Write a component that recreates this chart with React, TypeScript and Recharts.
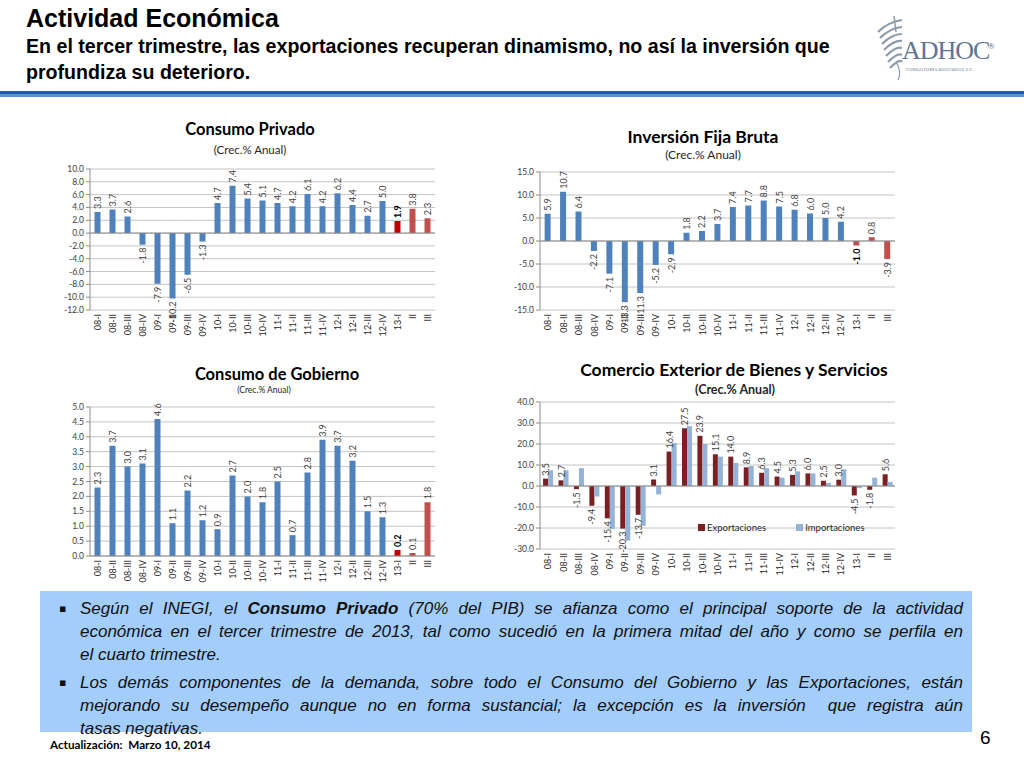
import React from 'react';
import { BarChart, Bar, XAxis, YAxis, CartesianGrid, Cell, LabelList, ReferenceLine } from 'recharts';

const categories = ['08-I','08-II','08-III','08-IV','09-I','09-II','09-III','09-IV','10-I','10-II','10-III','10-IV','11-I','11-II','11-III','11-IV','12-I','12-II','12-III','12-IV','13-I','II','III'];
const consumoPrivado = [3.3, 3.7, 2.6, -1.8, -7.9, -10.2, -6.5, -1.3, 4.7, 7.4, 5.4, 5.1, 4.7, 4.2, 6.1, 4.2, 6.2, 4.4, 2.7, 5.0, 1.9, 3.8, 2.3];
const inversionFija = [5.9, 10.7, 6.4, -2.2, -7.1, -13.3, -11.3, -5.2, -2.9, 1.8, 2.2, 3.7, 7.4, 7.7, 8.8, 7.5, 6.8, 6.0, 5.0, 4.2, -1.0, 0.8, -3.9];
const consumoGobierno = [2.3, 3.7, 3.0, 3.1, 4.6, 1.1, 2.2, 1.2, 0.9, 2.7, 2.0, 1.8, 2.5, 0.7, 2.8, 3.9, 3.7, 3.2, 1.5, 1.3, 0.2, 0.1, 1.8];
const exportaciones = [3.5, 2.7, -1.5, -9.4, -15.4, -20.3, -13.7, 3.1, 16.4, 27.5, 23.9, 15.1, 14.0, 8.9, 6.3, 4.5, 5.3, 6.0, 2.5, 3.0, -4.5, -1.8, 5.6];
const importaciones = [7.5, 7.5, 8.5, -5.0, -20.5, -26.0, -19.0, -4.0, 20.5, 28.5, 20.0, 14.0, 11.0, 9.5, 8.5, 4.0, 7.0, 6.0, 1.5, 8.0, -1.0, 4.0, 2.0];

const ticksPrivado = [10, 8, 6, 4, 2, 0, -2, -4, -6, -8, -10, -12];
const ticksInversion = [15, 10, 5, 0, -5, -10, -15];
const ticksGobierno = [0, 0.5, 1, 1.5, 2, 2.5, 3, 3.5, 4, 4.5, 5];
const ticksComercio = [-30, -20, -10, 0, 10, 20, 30, 40];

const BLUE = '#4F81BD';
const DARK_RED = '#C00000';
const RED = '#C0504D';
const EXPORT = '#7A1F22';
const IMPORT = '#95B3D7';
const GRID = '#C4C4C4';
const AXIS = '#8C8C8C';
const FONT = 'Lato, "Open Sans", "Liberation Sans", sans-serif';
const NARROW = '"Liberation Sans Narrow", "Liberation Sans", Arial, sans-serif';

const singleData = (vals: number[]) => categories.map((c, i) => ({ cat: c, v: vals[i] }));
const dataPrivado = singleData(consumoPrivado);
const dataInversion = singleData(inversionFija);
const dataGobierno = singleData(consumoGobierno);
const dataComercio = categories.map((c, i) => ({ cat: c, exp: exportaciones[i], imp: importaciones[i] }));

const XTick = (props: any) => {
  const { x, y, payload } = props;
  return (
    <text transform={`translate(${x},${y - 4}) rotate(-90)`} textAnchor="end" dominantBaseline="central" fontSize={9} fill="#262626" fontFamily={FONT}>
      {payload.value}
    </text>
  );
};

const makeLabel = (boldIndex: number) => (props: any) => {
  const vb = props.viewBox || {};
  const x = vb.x ?? props.x;
  const y = vb.y ?? props.y;
  const w = vb.width ?? props.width;
  const h = vb.height ?? props.height;
  const value = Number(props.value);
  const top = Math.min(y, y + h);
  const bottom = Math.max(y, y + h);
  const cx = x + w / 2;
  const bold = props.index === boldIndex;
  const neg = value < 0;
  const ay = neg ? bottom + 3 : top - 3;
  return (
    <text transform={`translate(${cx},${ay}) rotate(-90)`} textAnchor={neg ? 'end' : 'start'} dominantBaseline="central" fontSize={9} fill={bold ? '#000' : '#404040'} fontWeight={bold ? 'bold' : 'normal'} fontFamily={FONT}>
      {value.toFixed(1)}
    </text>
  );
};

const colorFor = (i: number, darkFirst: boolean) => (i < 20 ? BLUE : i === 20 && darkFirst ? DARK_RED : RED);

const yTick = { fontSize: 8.5, fill: '#404040', fontFamily: FONT };

function singleChart(data: any[], width: number, height: number, domain: [number, number], ticks: number[], darkFirst: boolean) {
  return (
    <BarChart width={width} height={height} data={data} margin={{ top: 9, right: 5, bottom: 0, left: 0 }} barCategoryGap="30%">
      <CartesianGrid vertical={false} stroke={GRID} />
      <XAxis dataKey="cat" interval={0} tick={<XTick />} height={35} axisLine={false} tickLine={false} />
      <YAxis width={50} domain={domain} ticks={ticks} interval={0} tick={yTick} tickFormatter={(v: number) => v.toFixed(1)} axisLine={{ stroke: AXIS }} tickLine={{ stroke: AXIS }} tickSize={4} allowDataOverflow />
      <ReferenceLine y={0} stroke={AXIS} />
      <Bar dataKey="v" isAnimationActive={false}>
        {data.map((d, i) => (
          <Cell key={d.cat} fill={colorFor(i, darkFirst)} />
        ))}
        <LabelList dataKey="v" content={makeLabel(20)} />
      </Bar>
    </BarChart>
  );
}

const titleStyle = (cx: number, top: number, size: number): React.CSSProperties => ({
  position: 'absolute', left: cx - 250, top, width: 500, textAlign: 'center', fontFamily: FONT, fontWeight: 'bold', fontSize: size, lineHeight: 1.2, color: '#000', whiteSpace: 'nowrap',
});
const subStyle = (cx: number, top: number, size: number, bold = false): React.CSSProperties => ({
  position: 'absolute', left: cx - 150, top, width: 300, textAlign: 'center', fontFamily: FONT, fontSize: size, lineHeight: 1.2, color: '#262626', fontWeight: bold ? 'bold' : 'normal', whiteSpace: 'nowrap',
});

const bodyLine = (justify: boolean): React.CSSProperties => ({
  textAlign: justify ? 'justify' : 'left',
  textAlignLast: justify ? 'justify' : 'left',
  whiteSpace: 'nowrap',
  height: 23,
  lineHeight: '23px',
});

const Logo = () => (
  <div style={{ position: 'absolute', left: 872, top: 12, width: 140, height: 70 }}>
    <svg width={40} height={68} style={{ position: 'absolute', left: 0, top: 0 }}>
      {[0, 1, 2, 3, 4, 5, 6].map((k) => (
        <path key={k} d={`M ${6 + k * 2} ${20 + k * 6} Q ${16 + k * 2} ${10 + k * 6} ${30} ${8 + k * 7}`} stroke="#8E9CAE" strokeWidth={2.2} fill="none" />
      ))}
      <path d="M 22 4 L 24 20" stroke="#8E9CAE" strokeWidth={1.5} />
      <path d="M 24 50 Q 30 60 26 68" stroke="#8E9CAE" strokeWidth={1.2} fill="none" />
    </svg>
    <div style={{ position: 'absolute', left: 30, top: 26, fontFamily: '"Liberation Serif", "DejaVu Serif", serif', fontSize: 26, lineHeight: 1, color: '#5E7694', letterSpacing: -1 }}>ADHOC</div>
    <div style={{ position: 'absolute', left: 116, top: 30, fontFamily: FONT, fontSize: 8, lineHeight: 1, color: '#5E7694' }}>®</div>
    <div style={{ position: 'absolute', left: 34, top: 55, fontFamily: FONT, fontSize: 4, color: '#6B7B8F', letterSpacing: 0.3, whiteSpace: 'nowrap' }}>CONSULTORES ASOCIADOS S.C.</div>
  </div>
);

export default function App() {
  return (
    <div style={{ position: 'absolute', left: 0, top: 0, width: 1024, height: 768, background: '#fff', overflow: 'hidden' }}>
      <div style={{ position: 'absolute', left: 26, top: 3, fontFamily: NARROW, fontWeight: 'bold', fontSize: 25, lineHeight: 1.2, color: '#000' }}>Actividad Económica</div>
      <div style={{ position: 'absolute', left: 26, top: 33, width: 880, fontFamily: NARROW, fontWeight: 'bold', fontSize: 19.6, lineHeight: '26px', color: '#000', whiteSpace: 'nowrap' }}>
        En el tercer trimestre, las exportaciones recuperan dinamismo, no así la inversión que
        <br />
        profundiza su deterioro.
      </div>
      <Logo />
      <div style={{ position: 'absolute', left: 0, top: 91, width: 1024, height: 3, background: '#1F5AA6' }} />
      <div style={{ position: 'absolute', left: 0, top: 94, width: 1024, height: 3, background: '#5C8FD0' }} />

      {/* Consumo Privado */}
      <div style={titleStyle(250, 120, 16.5)}>Consumo Privado</div>
      <div style={subStyle(250, 143, 11.5)}>(Crec.% Anual)</div>
      <div style={{ position: 'absolute', left: 40, top: 160 }}>
        {singleChart(dataPrivado, 400, 185, [-12, 10], ticksPrivado, true)}
      </div>

      {/* Inversión Fija Bruta */}
      <div style={titleStyle(703, 126, 17.5)}>Inversión Fija Bruta</div>
      <div style={subStyle(703, 148, 12)}>(Crec.% Anual)</div>
      <div style={{ position: 'absolute', left: 490, top: 163 }}>
        {singleChart(dataInversion, 410, 182, [-15, 15], ticksInversion, false)}
      </div>

      {/* Consumo de Gobierno */}
      <div style={titleStyle(277, 365, 16.5)}>Consumo de Gobierno</div>
      <div style={subStyle(264, 384.5, 8.5)}>(Crec.% Anual)</div>
      <div style={{ position: 'absolute', left: 40, top: 398 }}>
        {singleChart(dataGobierno, 400, 193, [0, 5], ticksGobierno, true)}
      </div>

      {/* Comercio Exterior */}
      <div style={titleStyle(734, 359, 17.5)}>Comercio Exterior de Bienes y Servicios</div>
      <div style={subStyle(735, 381.5, 12.5, true)}>(Crec.% Anual)</div>
      <div style={{ position: 'absolute', left: 490, top: 393 }}>
        <BarChart width={410} height={191} data={dataComercio} margin={{ top: 9, right: 5, bottom: 0, left: 0 }} barCategoryGap="20%" barGap={0}>
          <CartesianGrid vertical={false} stroke={GRID} />
          <XAxis dataKey="cat" interval={0} tick={<XTick />} height={35} axisLine={false} tickLine={false} />
          <YAxis width={50} domain={[-30, 40]} ticks={ticksComercio} interval={0} tick={yTick} tickFormatter={(v: number) => v.toFixed(1)} axisLine={{ stroke: AXIS }} tickLine={{ stroke: AXIS }} tickSize={4} />
          <ReferenceLine y={0} stroke={AXIS} />
          <Bar dataKey="exp" fill={EXPORT} isAnimationActive={false}>
            <LabelList dataKey="exp" content={makeLabel(-1)} />
          </Bar>
          <Bar dataKey="imp" fill={IMPORT} isAnimationActive={false} />
        </BarChart>
        <div style={{ position: 'absolute', left: 208, top: 129, display: 'flex', alignItems: 'center', fontFamily: FONT, fontSize: 9.5, color: '#262626', whiteSpace: 'nowrap' }}>
          <span style={{ display: 'inline-block', width: 7, height: 7, background: EXPORT, marginRight: 2 }} />
          <span>Exportaciones</span>
          <span style={{ display: 'inline-block', width: 7, height: 7, background: IMPORT, marginLeft: 30, marginRight: 2 }} />
          <span>Importaciones</span>
        </div>
      </div>

      {/* Text box */}
      <div style={{ position: 'absolute', left: 40, top: 591, width: 932, height: 141, background: '#A3CDFA' }}>
        <div style={{ position: 'absolute', left: 40, top: 6, width: 883, fontFamily: NARROW, fontStyle: 'italic', fontSize: 17, color: '#111' }}>
          <div style={bodyLine(true)}>Según el INEGI, el <b>Consumo Privado</b> (70% del PIB) se afianza como el principal soporte de la actividad</div>
          <div style={bodyLine(true)}>económica en el tercer trimestre de 2013, tal como sucedió en la primera mitad del año y como se perfila en</div>
          <div style={bodyLine(false)}>el cuarto trimestre.</div>
          <div style={{ height: 5 }} />
          <div style={bodyLine(true)}>Los demás componentes de la demanda, sobre todo el Consumo del Gobierno y las Exportaciones, están</div>
          <div style={bodyLine(true)}>mejorando su desempeño aunque no en forma sustancial; la excepción es la inversión&nbsp; que registra aún</div>
          <div style={bodyLine(false)}>tasas negativas.</div>
        </div>
        <div style={{ position: 'absolute', left: 19, top: 6, fontSize: 11, lineHeight: '23px', color: '#111', fontFamily: '"DejaVu Sans", sans-serif' }}>▪</div>
        <div style={{ position: 'absolute', left: 19, top: 80, fontSize: 11, lineHeight: '23px', color: '#111', fontFamily: '"DejaVu Sans", sans-serif' }}>▪</div>
      </div>

      <div style={{ position: 'absolute', left: 50, top: 737, fontFamily: FONT, fontWeight: 'bold', fontSize: 11.7, color: '#000', whiteSpace: 'pre' }}>Actualización:  Marzo 10, 2014</div>
      <div style={{ position: 'absolute', left: 980, top: 727, fontFamily: NARROW, fontSize: 19, color: '#000' }}>6</div>
    </div>
  );
}
